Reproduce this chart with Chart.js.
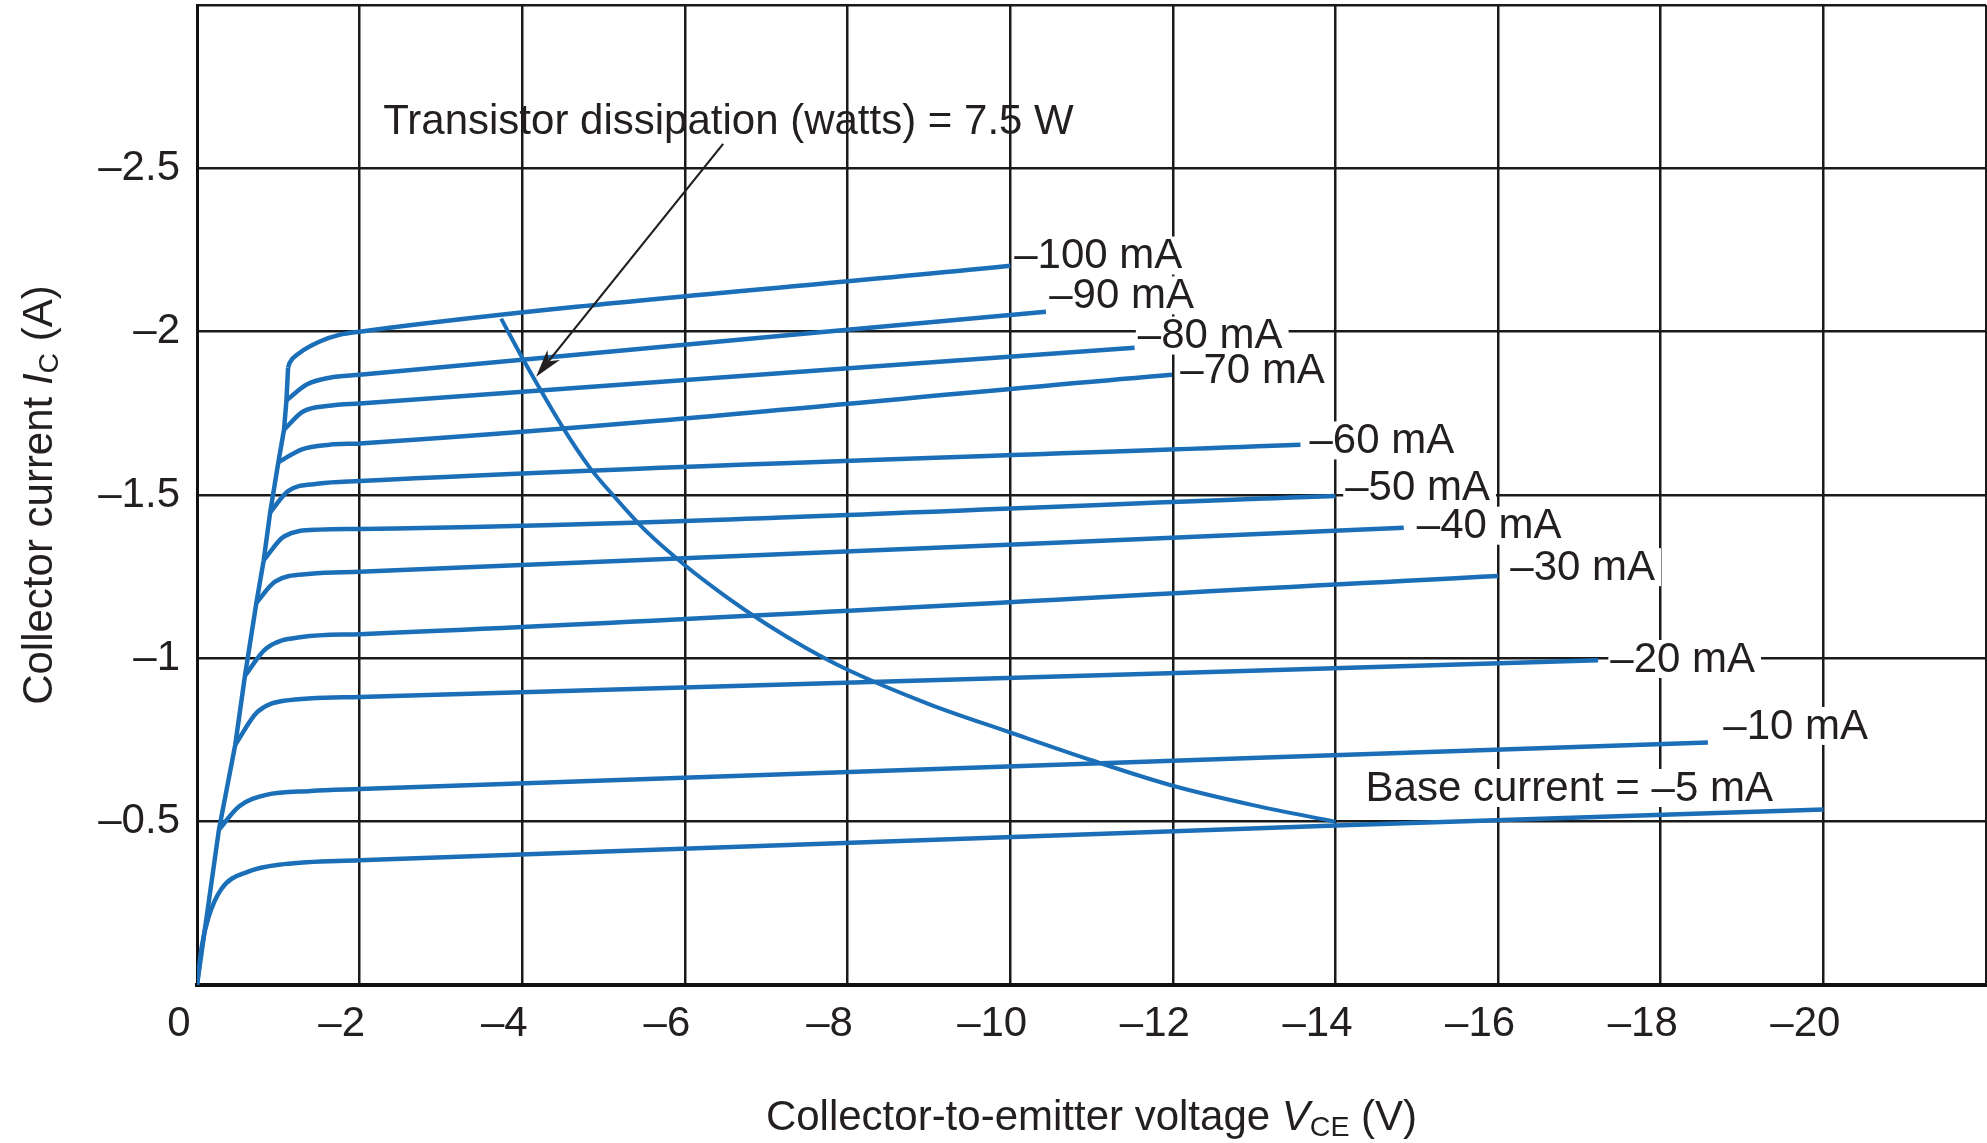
<!DOCTYPE html>
<html lang="en">
<head>
  <meta charset="UTF-8" />
  <title>Collector characteristics</title>
  <script src="https://cdn.jsdelivr.net/npm/chart.js"></script>
  <style>
    html, body { margin: 0; padding: 0; background: #fff; }
    #wrap { width: 1987px; height: 1143px; }
  </style>
</head>
<body>
  <div id="wrap"><canvas id="chart"></canvas></div>

  <script>
    // base current curves: collector-emitter voltage (V) and collector current (A)
    const vce_5 = [0, -0.06, -0.14, -0.3, -0.63, -1.07, -2, -20];
    const ic_5 = [0, -0.12, -0.206, -0.294, -0.347, -0.37, -0.382, -0.537];
    const vce_10 = [-0.27, -0.52, -0.85, -1.4, -2, -18.58];
    const ic_10 = [-0.476, -0.547, -0.582, -0.594, -0.6, -0.742];
    const vce_20 = [-0.47, -0.74, -1.07, -2, -17.23];
    const ic_20 = [-0.735, -0.835, -0.87, -0.882, -0.994];
    const vce_30 = [-0.59, -0.85, -1.29, -2, -16.0];
    const ic_30 = [-0.947, -1.03, -1.065, -1.074, -1.252];
    const vce_40 = [-0.73, -0.96, -1.4, -2, -14.84];
    const ic_40 = [-1.17, -1.235, -1.259, -1.265, -1.4];
    const vce_50 = [-0.82, -1.07, -1.5, -2, -14.0];
    const ic_50 = [-1.3, -1.373, -1.394, -1.396, -1.497];
    const vce_60 = [-0.9, -1.12, -1.5, -2, -13.57];
    const ic_60 = [-1.447, -1.512, -1.535, -1.543, -1.654];
    const vce_70 = [-1.0, -1.29, -1.63, -2, -11.99];
    const ic_70 = [-1.6, -1.64, -1.654, -1.658, -1.868];
    const vce_80 = [-1.07, -1.3, -1.63, -2, -11.53];
    const ic_80 = [-1.7, -1.755, -1.773, -1.78, -1.951];
    const vce_90 = [-1.1, -1.35, -1.63, -2, -10.44];
    const ic_90 = [-1.79, -1.838, -1.859, -1.868, -2.061];
    const vce_100 = [-1.12, -1.14, -1.26, -1.51, -1.75, -2.0, -10.0];
    const ic_100 = [-1.89, -1.905, -1.935, -1.97, -1.99, -2.0, -2.202];

    // saturation edge joining the knees
    const vce_edge = [0, -0.27, -0.47, -0.59, -0.73, -0.82, -0.9, -1.0, -1.07, -1.1, -1.12];
    const ic_edge = [0, -0.476, -0.735, -0.947, -1.17, -1.3, -1.447, -1.6, -1.7, -1.79, -1.89];

    // 7.5 W dissipation curve
    const vce_diss = [-3.74, -4.0, -4.17, -4.49, -4.82, -5.15, -5.52, -6.0, -6.5, -7.0, -7.5, -8.0, -9.0, -10.0, -11.0, -12.0, -13.0, -14.0];
    const ic_diss = [-2.04, -1.92, -1.845, -1.71, -1.587, -1.49, -1.39, -1.285, -1.19, -1.105, -1.03, -0.965, -0.86, -0.773, -0.688, -0.61, -0.55, -0.50];

    // curve labels (text left edge, vertical middle), in axis units
    const curveLabels = ['–100 mA', '–90 mA', '–80 mA', '–70 mA', '–60 mA', '–50 mA', '–40 mA', '–30 mA', '–20 mA', '–10 mA', 'Base current = –5 mA'];
    const labelV = [-10.05, -10.48, -11.57, -12.09, -13.68, -14.12, -15.0, -16.15, -17.38, -18.77, -14.37];
    const labelI = [-2.23, -2.108, -1.985, -1.878, -1.664, -1.52, -1.403, -1.276, -0.995, -0.79, -0.60];

    const dissText = 'Transistor dissipation (watts) = 7.5 W';
    const dissTextAt = [-2.29, -2.64];
    const arrowFrom = [-6.47, -2.575];
    const arrowTo = [-4.17, -1.862];

    const xTitle = [['Collector-to-emitter voltage ', ''], ['V', 'i'], ['CE', 's'], [' (V)', '']];
    const yTitle = [['Collector current ', ''], ['I', 'i'], ['C', 's'], [' (A)', '']];

    const FONT = "'Liberation Sans', Arial, sans-serif";
    const BLUE = '#1b6fb8';
    const INK = '#231f20';

    function pts(vs, is) {
      return vs.map((v, k) => ({ x: v, y: is[k] }));
    }

    function curve(vs, is, extra) {
      return Object.assign({
        data: pts(vs, is),
        borderColor: BLUE,
        borderWidth: 4.5,
        pointRadius: 0,
        fill: false,
        cubicInterpolationMode: 'monotone'
      }, extra || {});
    }

    const datasets = [
      curve(vce_5, ic_5),
      curve(vce_10, ic_10),
      curve(vce_20, ic_20),
      curve(vce_30, ic_30),
      curve(vce_40, ic_40),
      curve(vce_50, ic_50),
      curve(vce_60, ic_60),
      curve(vce_70, ic_70),
      curve(vce_80, ic_80),
      curve(vce_90, ic_90),
      curve(vce_100, ic_100),
      curve(vce_edge, ic_edge, { cubicInterpolationMode: 'default', tension: 0 }),
      curve(vce_diss, ic_diss, { borderWidth: 4 })
    ];

    function drawRich(ctx, parts, size) {
      // parts: [text, style] with style '' normal, 'i' italic, 's' subscript
      const widths = parts.map(([t, s]) => {
        ctx.font = (s === 'i' ? 'italic ' : '') + (s === 's' ? size * 0.68 : size) + 'px ' + FONT;
        return ctx.measureText(t).width;
      });
      const total = widths.reduce((a, b) => a + b, 0);
      let x = -total / 2;
      ctx.textAlign = 'left';
      ctx.textBaseline = 'alphabetic';
      parts.forEach(([t, s], k) => {
        ctx.font = (s === 'i' ? 'italic ' : '') + (s === 's' ? size * 0.68 : size) + 'px ' + FONT;
        ctx.fillText(t, x, s === 's' ? size * 0.5 : size * 0.36);
        x += widths[k];
      });
    }

    const annotations = {
      id: 'annotations',
      afterDatasetsDraw(chart) {
        const { ctx, chartArea, scales: { x, y } } = chart;
        ctx.save();
        ctx.fillStyle = INK;

        // curve labels with white backing
        ctx.font = '42px ' + FONT;
        ctx.textBaseline = 'middle';
        ctx.textAlign = 'left';
        curveLabels.forEach((t, k) => {
          const px = x.getPixelForValue(labelV[k]);
          const py = y.getPixelForValue(labelI[k]);
          const w = ctx.measureText(t).width;
          ctx.fillStyle = '#fff';
          ctx.fillRect(px - 2, py - 20, w + 8, 38);
          ctx.fillStyle = INK;
          ctx.fillText(t, px, py);
        });

        ctx.fillText(dissText, x.getPixelForValue(dissTextAt[0]), y.getPixelForValue(dissTextAt[1]));

        // arrow to the dissipation curve
        const x0 = x.getPixelForValue(arrowFrom[0]), y0 = y.getPixelForValue(arrowFrom[1]);
        const x1 = x.getPixelForValue(arrowTo[0]), y1 = y.getPixelForValue(arrowTo[1]);
        const ang = Math.atan2(y1 - y0, x1 - x0);
        ctx.strokeStyle = INK;
        ctx.lineWidth = 2.2;
        ctx.beginPath();
        ctx.moveTo(x0, y0);
        ctx.lineTo(x1 - 20 * Math.cos(ang), y1 - 20 * Math.sin(ang));
        ctx.stroke();
        ctx.beginPath();
        ctx.moveTo(x1, y1);
        ctx.lineTo(x1 - 28 * Math.cos(ang) + 8 * Math.sin(ang), y1 - 28 * Math.sin(ang) - 8 * Math.cos(ang));
        ctx.lineTo(x1 - 20 * Math.cos(ang), y1 - 20 * Math.sin(ang));
        ctx.lineTo(x1 - 28 * Math.cos(ang) - 8 * Math.sin(ang), y1 - 28 * Math.sin(ang) + 8 * Math.cos(ang));
        ctx.closePath();
        ctx.fill();

        // axis titles with italic symbol and subscript
        ctx.save();
        ctx.translate((chartArea.left + chartArea.right) / 2, chartArea.bottom + 130);
        drawRich(ctx, xTitle, 42);
        ctx.restore();
        ctx.save();
        ctx.translate(chartArea.left - 160, (chartArea.top + chartArea.bottom) / 2);
        ctx.rotate(-Math.PI / 2);
        drawRich(ctx, yTitle, 42);
        ctx.restore();

        ctx.restore();
      }
    };

    Chart.defaults.font.family = FONT;
    Chart.defaults.color = INK;

    new Chart(document.getElementById('chart'), {
      type: 'line',
      data: { datasets },
      options: {
        responsive: true,
        maintainAspectRatio: false,
        animation: false,
        layout: { padding: { top: 5, right: 1, left: 0, bottom: 0 } },
        plugins: { legend: { display: false }, tooltip: { enabled: false } },
        scales: {
          x: {
            type: 'linear',
            min: -22,
            max: 0,
            reverse: true,
            afterFit: s => { s.height = 158; s.paddingLeft = 0; s.paddingRight = 0; },
            border: { display: true, color: '#111', width: 4 },
            grid: { color: '#1a1a1a', lineWidth: 2.5, drawTicks: false },
            ticks: {
              stepSize: 2,
              padding: 14,
              labelOffset: -18,
              maxRotation: 0,
              autoSkip: false,
              font: { size: 42 },
              callback: v => v === 0 ? '0' : (v <= -22 ? '' : '–' + Math.abs(v))
            }
          },
          y: {
            type: 'linear',
            min: -3,
            max: 0,
            reverse: true,
            afterFit: s => { s.width = 197; s.paddingTop = 0; s.paddingBottom = 0; },
            border: { display: true, color: '#111', width: 3 },
            grid: { color: '#1a1a1a', lineWidth: 2.5, drawTicks: false },
            ticks: {
              stepSize: 0.5,
              padding: 17,
              autoSkip: false,
              font: { size: 42 },
              callback: v => (v === 0 || v <= -3) ? '' : '–' + Math.abs(v)
            }
          }
        }
      },
      plugins: [annotations]
    });
  </script>
</body>
</html>
